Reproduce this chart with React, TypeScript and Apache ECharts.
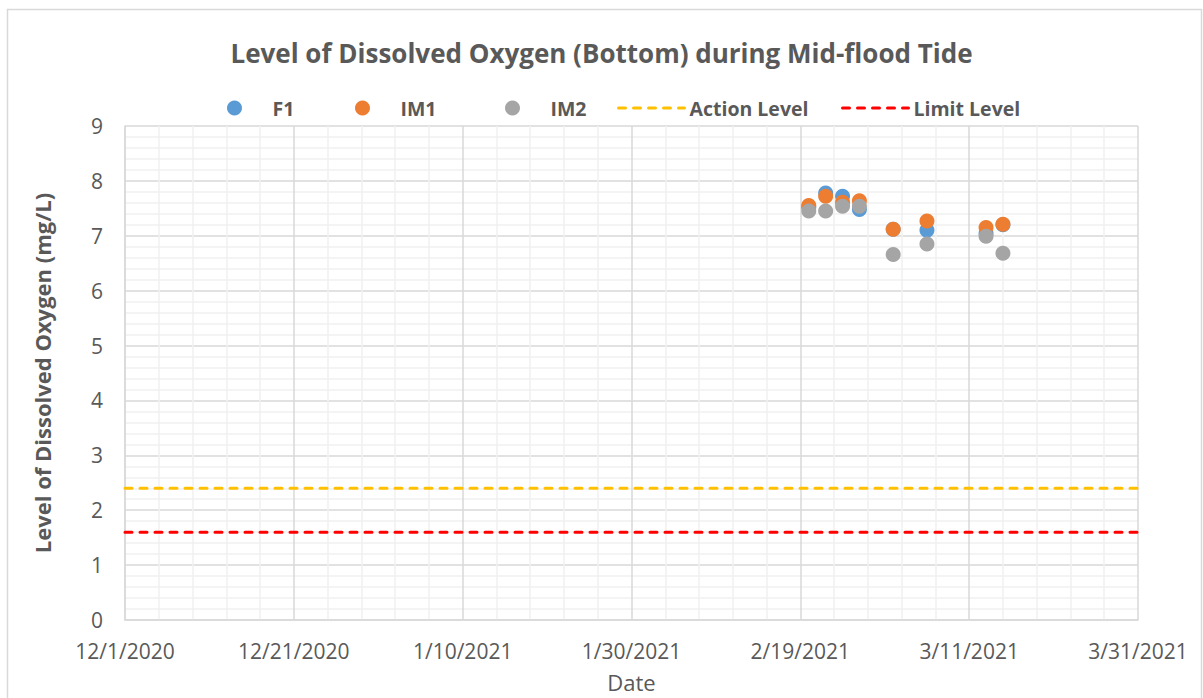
import React, { useEffect, useRef } from "react";
import * as echarts from "echarts";

const sampleDates = ["2/20/2021", "2/22/2021", "2/24/2021", "2/26/2021", "3/2/2021", "3/6/2021", "3/13/2021", "3/15/2021"];
const f1Values = [7.52, 7.78, 7.72, 7.48, 7.12, 7.10, 7.04, 7.20];
const im1Values = [7.55, 7.72, 7.61, 7.64, 7.12, 7.27, 7.15, 7.21];
const im2Values = [7.45, 7.45, 7.54, 7.54, 6.66, 6.85, 6.99, 6.68];
const actionLevel = 2.4;
const limitLevel = 1.6;
const axisStartDate = "12/1/2020";
const axisEndDate = "3/31/2021";
const xTickStepDays = 20;
const yTicks = [0, 1, 2, 3, 4, 5, 6, 7, 8, 9];

const DAY = 86400000;
function parseMDY(s: string): number {
  const [m, d, y] = s.split("/").map(Number);
  return Date.UTC(y, m - 1, d);
}
const origin = parseMDY(axisStartDate);
const toDay = (s: string) => Math.round((parseMDY(s) - origin) / DAY);
const fmtDay = (d: number) => {
  const t = new Date(origin + d * DAY);
  return `${t.getUTCMonth() + 1}/${t.getUTCDate()}/${t.getUTCFullYear()}`;
};

const FONT = "'Open Sans', Lato, sans-serif";
const TXT = "#595959";

export default function App() {
  const ref = useRef<HTMLDivElement>(null);
  useEffect(() => {
    if (!ref.current) return;
    const chart = echarts.init(ref.current, null, { renderer: "svg" });
    const xs = sampleDates.map(toDay);
    const xMax = toDay(axisEndDate);
    const mk = (vals: number[]) => vals.map((v, i) => [xs[i], v]);
    const legendBase = {
      top: 93,
      itemHeight: 15,
      itemWidth: 66,
      textStyle: { fontFamily: FONT, fontSize: 19.5, fontWeight: "bold" as const, color: TXT },
      selectedMode: false,
    };
    const lineLegend = (color: string) => ({
      itemStyle: { opacity: 0 },
      lineStyle: { color, width: 3, type: [7, 8], cap: "round", opacity: 1 },
    });
    chart.setOption({
      animation: false,
      backgroundColor: "#ffffff",
      textStyle: { fontFamily: FONT },
      title: {
        text: "Level of Dissolved Oxygen (Bottom) during Mid-flood Tide",
        left: "center",
        top: 35,
        textStyle: { fontFamily: FONT, fontSize: 26, fontWeight: "bold", color: TXT },
      },
      graphic: [
        {
          type: "rect",
          shape: { x: 7.5, y: 9.5, width: 1194, height: 700 },
          style: { fill: "none", stroke: "#d9d9d9", lineWidth: 1.5 },
          silent: true,
        },
      ],
      legend: [
        { ...legendBase, left: 222, data: ["F1"] },
        { ...legendBase, left: 350, data: ["IM1"] },
        { ...legendBase, left: 500, data: ["IM2"] },
        { ...legendBase, left: 612, data: [{ name: "Action Level", ...lineLegend("#FFC000") }] },
        { ...legendBase, left: 836, data: [{ name: "Limit Level", ...lineLegend("#FF0000") }] },
      ],
      grid: { left: 125, right: 65, top: 126, bottom: 76, containLabel: false },
      xAxis: {
        type: "value",
        min: 0,
        max: xMax,
        interval: xTickStepDays,
        name: "Date",
        nameLocation: "middle",
        nameGap: 51,
        nameTextStyle: { fontFamily: FONT, fontSize: 22, color: TXT },
        axisLine: { show: true, lineStyle: { color: "#d9d9d9", width: 1.5 } },
        axisTick: { show: false },
        axisLabel: { formatter: (v: number) => fmtDay(v), fontSize: 21, color: TXT, margin: 20, fontFamily: FONT },
        splitLine: { show: true, lineStyle: { color: "#d9d9d9", width: 1.5 } },
        minorTick: { show: false, splitNumber: 5 },
        minorSplitLine: { show: true, lineStyle: { color: "#f0f0f0", width: 1.5 } },
      },
      yAxis: {
        type: "value",
        min: yTicks[0],
        max: yTicks[yTicks.length - 1],
        interval: 1,
        name: "Level of Dissolved Oxygen (mg/L)",
        nameLocation: "middle",
        nameGap: 72,
        nameTextStyle: { fontFamily: FONT, fontSize: 22, fontWeight: "bold", color: TXT },
        axisLine: { show: true, lineStyle: { color: "#d9d9d9", width: 1.5 } },
        axisTick: { show: false },
        axisLabel: { fontSize: 21, color: TXT, margin: 22, fontFamily: FONT },
        splitLine: { show: true, lineStyle: { color: "#d9d9d9", width: 1.5 } },
        minorTick: { show: false, splitNumber: 5 },
        minorSplitLine: { show: true, lineStyle: { color: "#f0f0f0", width: 1.5 } },
      },
      series: [
        { name: "Action Level", type: "line", data: [[0, actionLevel], [xMax, actionLevel]], symbol: "none", lineStyle: { color: "#FFC000", width: 3, type: [7, 8], cap: "round" }, itemStyle: { color: "#FFC000" }, z: 1 },
        { name: "Limit Level", type: "line", data: [[0, limitLevel], [xMax, limitLevel]], symbol: "none", lineStyle: { color: "#FF0000", width: 3, type: [7, 8], cap: "round" }, itemStyle: { color: "#FF0000" }, z: 1 },
        { name: "F1", type: "scatter", data: mk(f1Values), symbolSize: 15, itemStyle: { color: "#5B9BD5", opacity: 1 }, z: 2 },
        { name: "IM1", type: "scatter", data: mk(im1Values), symbolSize: 15, itemStyle: { color: "#ED7D31", opacity: 1 }, z: 3 },
        { name: "IM2", type: "scatter", data: mk(im2Values), symbolSize: 15, itemStyle: { color: "#A5A5A5", opacity: 1 }, z: 4 },
      ],
    });
    return () => chart.dispose();
  }, []);
  return <div ref={ref} style={{ position: "fixed", left: 0, top: 0, width: 1203, height: 698 }} />;
}
